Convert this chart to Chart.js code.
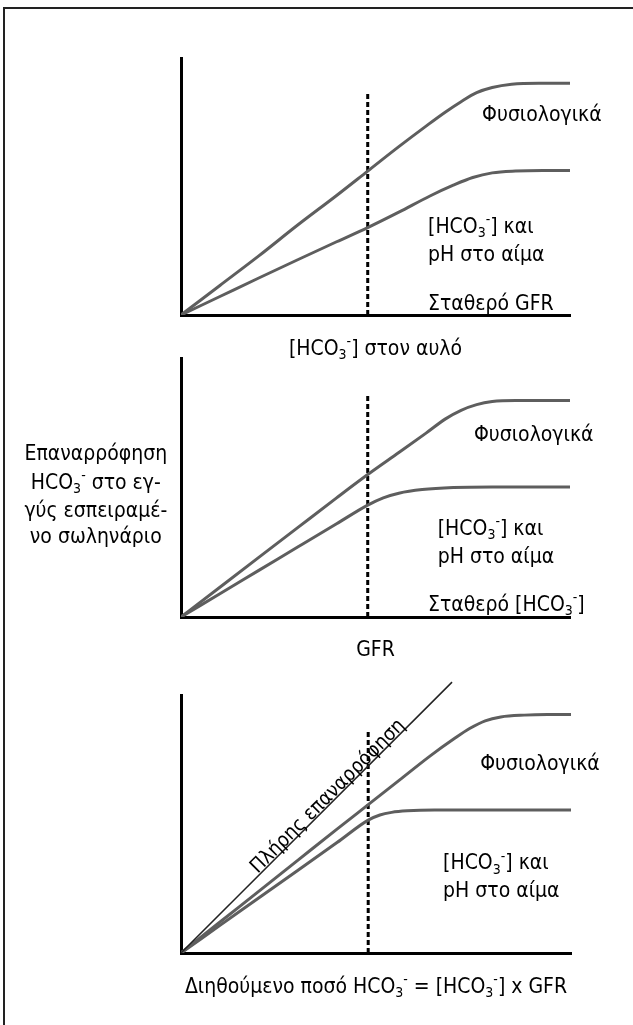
<!DOCTYPE html>
<html>
<head>
<meta charset="utf-8">
<script src="https://cdn.jsdelivr.net/npm/chart.js@4.4.1/dist/chart.umd.min.js"></script>
<style>
  html, body { margin: 0; padding: 0; background: #fff; }
  #page { position: relative; width: 633px; height: 1025px; overflow: hidden; }
  #page canvas { position: absolute; left: 0; top: 0; }
  #frame { position: absolute; left: 3px; top: 7px; width: 700px; height: 1100px;
           border-top: 2px solid #222; border-left: 2px solid #222; }
</style>
</head>
<body>
<div id="page">
  <div id="frame"></div>
  <canvas id="c1" width="633" height="1025"></canvas>
  <canvas id="c2" width="633" height="1025"></canvas>
  <canvas id="c3" width="633" height="1025"></canvas>
</div>
<script>
// values, axes in arbitrary units 0..100
const dashX = 48;          // position of the dashed "normal" line
const dashTop = 86.5;

// panel 1: [HCO3-] in tubule, constant GFR
const p1NormalX = [0, 10, 20, 30, 40, 48, 56, 63, 68, 72, 76, 80, 85, 92, 100];
const p1NormalY = [0, 11.5, 23, 35, 46.5, 56, 65.5, 73.5, 79, 83, 86.5, 88.5, 89.8, 90.2, 90.2];
const p1LowX = [0, 10, 20, 30, 40, 48, 56, 64, 70, 75, 80, 86, 93, 100];
const p1LowY = [0, 7.2, 14.4, 21.5, 28.5, 34, 40, 46.3, 50.5, 53.5, 55.3, 56, 56.2, 56.2];

// panel 2: GFR, constant [HCO3-]
const p2NormalX = [0, 10, 20, 30, 40, 48, 56, 63, 68, 72, 76, 80, 86, 93, 100];
const p2NormalY = [0, 11.5, 23, 34.5, 46, 55, 63.5, 71, 76.5, 79.8, 82, 83.2, 83.6, 83.6, 83.6];
const p2LowX = [0, 10, 20, 30, 40, 48, 52, 56, 62, 70, 80, 90, 100];
const p2LowY = [0, 9, 18, 27, 36, 43.2, 46, 47.8, 49.2, 50, 50.2, 50.2, 50.2];

// panel 3: filtered load
const p3FullX = [0, 69.5];
const p3FullY = [0, 105];
const p3NormalX = [0, 10, 20, 30, 40, 48, 56, 64, 70, 74, 78, 82, 88, 94, 100];
const p3NormalY = [0, 12, 24, 36, 48, 57.5, 67, 76.5, 83, 87, 90, 91.5, 92.2, 92.4, 92.4];
const p3LowX = [0, 10, 20, 30, 40, 48, 51, 54, 58, 65, 75, 85, 100];
const p3LowY = [0, 10.7, 21.4, 32.1, 42.8, 51.5, 53.5, 54.5, 55.1, 55.4, 55.4, 55.4, 55.4];

const FONT = '"Liberation Sans Narrow", "Arial Narrow", "DejaVu Sans Condensed", "Liberation Sans", sans-serif';
const font = (s) => s + 'px ' + FONT;

// "_3" -> subscript, "^-" -> superscript
function parseRich(str) {
    const parts = [];
    let buf = '';
    for (let i = 0; i < str.length; i++) {
        const ch = str[i];
        if ((ch === '_' || ch === '^') && i + 1 < str.length) {
            if (buf) parts.push({ t: buf, k: 0 });
            buf = '';
            parts.push({ t: str[i + 1], k: ch === '_' ? 1 : -1 });
            i++;
        } else {
            buf += ch;
        }
    }
    if (buf) parts.push({ t: buf, k: 0 });
    return parts;
}

function drawRich(ctx, str, x, y, size, align) {
    const parts = parseRich(str);
    const small = Math.round(size * 0.68);
    let w = 0;
    parts.forEach(p => {
        ctx.font = font(p.k ? small : size);
        p.w = ctx.measureText(p.t).width;
        w += p.w;
    });
    let cx = align === 'center' ? x - w / 2 : (align === 'right' ? x - w : x);
    ctx.textAlign = 'left';
    ctx.textBaseline = 'alphabetic';
    parts.forEach(p => {
        ctx.font = font(p.k ? small : size);
        const dy = p.k === 1 ? size * 0.22 : (p.k === -1 ? -size * 0.4 : 0);
        ctx.fillText(p.t, cx, y + dy);
        cx += p.w;
    });
}

// text labels placed in data units (or along a dataset's line)
const notesPlugin = {
    id: 'notes',
    afterDatasetsDraw(chart, args, opts) {
        const { ctx } = chart;
        const xs = chart.scales.x, ys = chart.scales.y;
        ctx.save();
        ctx.fillStyle = opts.color;
        (opts.items || []).forEach(it => {
            const size = it.size || opts.size;
            if (it.along !== undefined) {
                const pts = chart.getDatasetMeta(it.along).data;
                const a = pts[0], b = pts[pts.length - 1];
                const ang = Math.atan2(b.y - a.y, b.x - a.x);
                ctx.save();
                ctx.translate(a.x + (b.x - a.x) * it.at, a.y + (b.y - a.y) * it.at);
                ctx.rotate(ang);
                drawRich(ctx, it.text, 0, -it.lift, size, 'center');
                ctx.restore();
                return;
            }
            const px = xs.getPixelForValue(it.x);
            const py = ys.getPixelForValue(it.y);
            drawRich(ctx, it.text, px, py + size * 0.36, size, it.align || 'left');
        });
        ctx.restore();
    }
};

function curve(xs, ys, extra) {
    return Object.assign({
        data: xs.map((x, i) => ({ x: x, y: ys[i] })),
        showLine: true,
        borderColor: '#5e5e5e',
        borderWidth: 3,
        cubicInterpolationMode: 'monotone',
        pointRadius: 0
    }, extra || {});
}

function dashed() {
    return {
        data: [{ x: dashX, y: 0 }, { x: dashX, y: dashTop }],
        showLine: true,
        borderColor: '#000',
        borderWidth: 3,
        borderDash: [5, 3],
        pointRadius: 0
    };
}

const axis = {
    type: 'linear', min: 0, max: 100,
    grid: { display: false, drawTicks: false },
    ticks: { display: false },
    border: { display: true, color: '#000', width: 3 }
};

function panel(id, pad, datasets, items) {
    return new Chart(document.getElementById(id), {
        type: 'scatter',
        data: { datasets: datasets },
        options: {
            responsive: false,
            animation: false,
            devicePixelRatio: 1,
            layout: { padding: pad },
            events: [],
            plugins: {
                legend: { display: false },
                tooltip: { enabled: false },
                notes: { items: items, size: 21, color: '#000' }
            },
            scales: { x: axis, y: axis }
        },
        plugins: [notesPlugin]
    });
}

panel('c1', { left: 181, right: 63, top: 58, bottom: 710 },
    [curve(p1NormalX, p1NormalY), curve(p1LowX, p1LowY), dashed()],
    [
        { text: 'Φυσιολογικά', x: 77.4, y: 78.6 },
        { text: '[HCO_3^-] και', x: 63.5, y: 35 },
        { text: 'pH στο αίμα', x: 63.5, y: 24.1 },
        { text: 'Σταθερό GFR', x: 63.5, y: 5 },
        { text: '[HCO_3^-] στον αυλό', x: 50, y: -12.5, align: 'center' }
    ]);

panel('c2', { left: 181, right: 63, top: 358, bottom: 408 },
    [curve(p2NormalX, p2NormalY), curve(p2LowX, p2LowY), dashed()],
    [
        { text: 'Φυσιολογικά', x: 75.3, y: 71 },
        { text: '[HCO_3^-] και', x: 66, y: 34.7 },
        { text: 'pH στο αίμα', x: 66, y: 23.9 },
        { text: 'Σταθερό [HCO_3^-]', x: 63.5, y: 5.4 },
        { text: 'GFR', x: 50, y: -12, align: 'center' },
        { text: 'Επαναρρόφηση', x: -21.9, y: 63.7, align: 'center' },
        { text: 'HCO_3^- στο εγ-', x: -21.9, y: 52.5, align: 'center' },
        { text: 'γύς εσπειραμέ-', x: -21.9, y: 41.7, align: 'center' },
        { text: 'νο σωληνάριο', x: -21.9, y: 31.3, align: 'center' }
    ]);

panel('c3', { left: 181, right: 62, top: 695, bottom: 72 },
    [
        curve(p3FullX, p3FullY, { borderColor: '#222', borderWidth: 1.5, cubicInterpolationMode: 'default', clip: false }),
        curve(p3NormalX, p3NormalY),
        curve(p3LowX, p3LowY),
        dashed()
    ],
    [
        { text: 'Πλήρης επαναρρόφηση', along: 0, at: 0.56, lift: 1.5, size: 20 },
        { text: 'Φυσιολογικά', x: 76.7, y: 74 },
        { text: '[HCO_3^-] και', x: 67.2, y: 35.3 },
        { text: 'pH στο αίμα', x: 67.2, y: 24.8 },
        { text: 'Διηθούμενο ποσό HCO_3^- = [HCO_3^-] x GFR', x: 50, y: -12.4, align: 'center' }
    ]);
</script>
</body>
</html>
